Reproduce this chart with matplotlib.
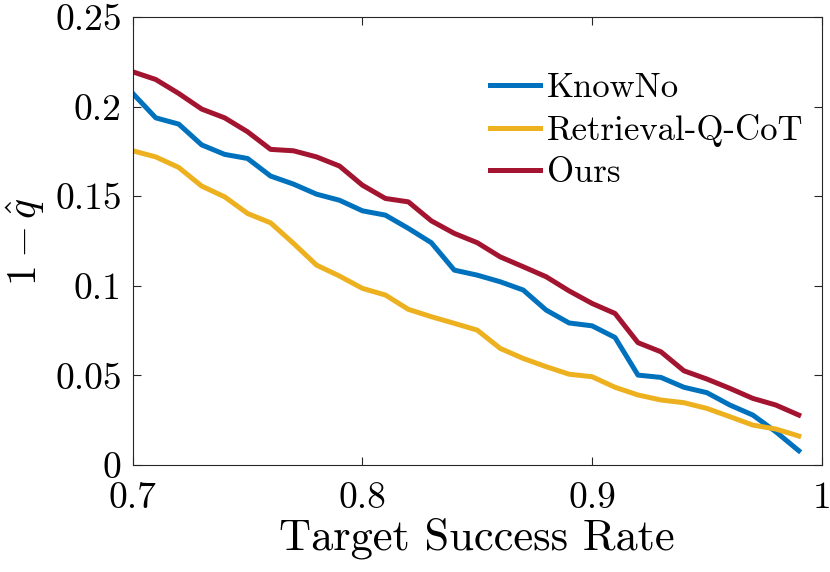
import matplotlib
matplotlib.use("Agg")
import matplotlib.pyplot as plt
import numpy as np

# target success rates (x axis)
success_rate = [0.70, 0.71, 0.72, 0.73, 0.74, 0.75, 0.76, 0.77, 0.78, 0.79,
                0.80, 0.81, 0.82, 0.83, 0.84, 0.85, 0.86, 0.87, 0.88, 0.89,
                0.90, 0.91, 0.92, 0.93, 0.94, 0.95, 0.96, 0.97, 0.98, 0.99]

knowno = [0.2074, 0.1938, 0.1903, 0.1787, 0.1734, 0.1711, 0.1613, 0.1568, 0.1512, 0.1478,
          0.1419, 0.1395, 0.1321, 0.1241, 0.1088, 0.1060, 0.1023, 0.0977, 0.0865, 0.0793,
          0.0777, 0.0712, 0.0502, 0.0489, 0.0434, 0.0404, 0.0335, 0.0279, 0.0186, 0.0080]

retrieval_q_cot = [0.1754, 0.1720, 0.1661, 0.1557, 0.1497, 0.1404, 0.1352, 0.1237, 0.1116, 0.1055,
                   0.0986, 0.0949, 0.0869, 0.0828, 0.0791, 0.0753, 0.0651, 0.0595, 0.0549, 0.0507,
                   0.0493, 0.0434, 0.0391, 0.0363, 0.0348, 0.0316, 0.0270, 0.0223, 0.0201, 0.0162]

ours = [0.2195, 0.2152, 0.2074, 0.1987, 0.1938, 0.1860, 0.1762, 0.1754, 0.1720, 0.1669,
        0.1562, 0.1488, 0.1469, 0.1363, 0.1293, 0.1241, 0.1162, 0.1107, 0.1051, 0.0972,
        0.0902, 0.0846, 0.0683, 0.0632, 0.0526, 0.0480, 0.0428, 0.0372, 0.0335, 0.0279]

plt.rcParams['font.family'] = 'serif'
plt.rcParams['font.serif'] = ['cmr10', 'DejaVu Serif']
plt.rcParams['mathtext.fontset'] = 'cm'
plt.rcParams['axes.formatter.use_mathtext'] = True

fig = plt.figure(figsize=(8.3, 5.72), dpi=100)
ax = fig.add_axes([0.160, 0.187, 0.830, 0.783])

lw = 3.6
ax.plot(success_rate, knowno, color='#0072BD', lw=lw, label='KnowNo')
ax.plot(success_rate, retrieval_q_cot, color='#EDB120', lw=lw, label='Retrieval-Q-CoT')
ax.plot(success_rate, ours, color='#A2142F', lw=lw, label='Ours')

ax.set_xlim(0.7, 1.0)
ax.set_ylim(0, 0.25)
ax.set_xticks([0.7, 0.8, 0.9, 1.0])
ax.set_xticklabels(['0.7', '0.8', '0.9', '1'])
ax.set_yticks([0, 0.05, 0.1, 0.15, 0.2, 0.25])
ax.set_yticklabels(['0', '0.05', '0.1', '0.15', '0.2', '0.25'])

for s in ax.spines.values():
    s.set_color('#262626')
    s.set_linewidth(0.8)
ax.tick_params(direction='in', length=6, width=0.8, color='#262626',
               top=True, right=True, labelsize=27)
ax.tick_params(axis='x', pad=12)
ax.tick_params(axis='y', pad=8)

ax.set_xlabel('Target Success Rate', fontsize=32, labelpad=2)
ax.set_ylabel(r'$1-\hat{q}$', fontsize=30, labelpad=6)

leg = ax.legend(loc='upper left', bbox_to_anchor=(0.518, 0.877), frameon=False,
                fontsize=25, handlelength=1.45, handletextpad=0.2, labelspacing=0.29,
                borderpad=0, borderaxespad=0)

fig.savefig('out.png', dpi=100)
